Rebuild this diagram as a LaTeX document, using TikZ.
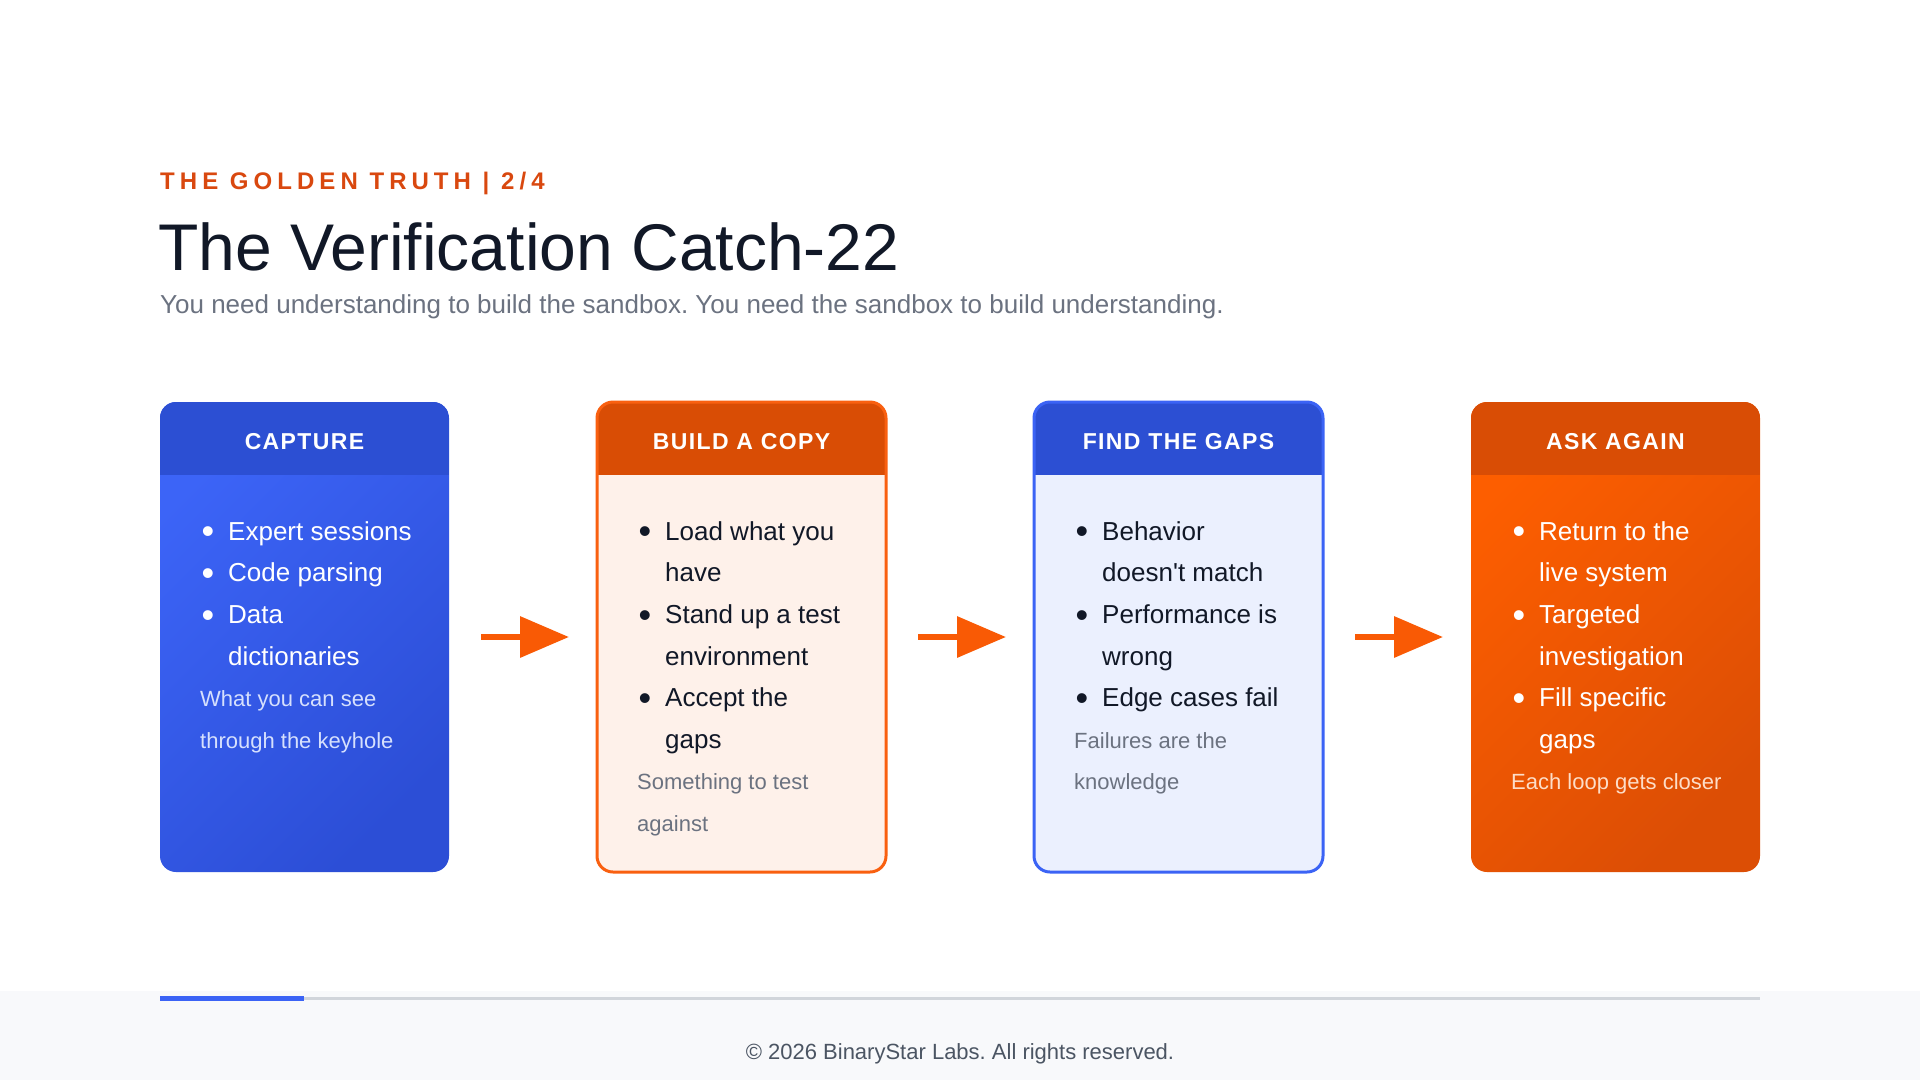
\documentclass[tikz,border=0pt]{standalone}
\usepackage{fontspec}
\setmainfont{Liberation Sans}
\newfontfamily\trackedfont[LetterSpace=21]{Liberation Sans}
\newfontfamily\headerfont[LetterSpace=6]{Liberation Sans}
\usetikzlibrary{arrows.meta,positioning,calc}
\frenchspacing
\definecolor{inkNavy}{RGB}{17,24,39}
\definecolor{slateGray}{RGB}{107,114,128}
\definecolor{footGray}{RGB}{75,85,99}
\definecolor{footBg}{RGB}{248,249,251}
\definecolor{trackGray}{RGB}{209,213,219}
\definecolor{eyebrowOrange}{RGB}{217,72,15}
\definecolor{arrowOrange}{RGB}{249,90,5}
\definecolor{headBlue}{RGB}{44,79,211}
\definecolor{headOrange}{RGB}{217,77,5}
\definecolor{blueTop}{RGB}{60,100,247}
\definecolor{blueBottom}{RGB}{44,78,214}
\definecolor{orangeTop}{RGB}{253,94,0}
\definecolor{orangeBottom}{RGB}{220,78,5}
\definecolor{lineBlue}{RGB}{59,99,245}
\definecolor{lineOrange}{RGB}{249,96,16}
\definecolor{paleBlue}{RGB}{235,240,254}
\definecolor{paleOrange}{RGB}{254,241,234}
\definecolor{noteOnBlue}{RGB}{214,224,253}
\definecolor{noteOnOrange}{RGB}{253,221,200}
\newcommand{\dotmark}{\hspace*{1.5pt}\raisebox{-3.5pt}{\fontsize{36}{0}\selectfont\textbullet}}
\newcommand{\notesize}{\fontsize{22}{41.6}\selectfont}
\tikzset{
  card/.style={rectangle,rounded corners=16pt,outer sep=0pt,inner sep=0pt,minimum width=289pt,minimum height=470pt},
  card blue/.style={card,top color=blueTop,bottom color=blueBottom,shading angle=45},
  card orange/.style={card,top color=orangeTop,bottom color=orangeBottom,shading angle=45},
  card pale orange/.style={card,fill=paleOrange},
  card pale blue/.style={card,fill=paleBlue},
  header text/.style={anchor=base,text=white,font=\headerfont\bfseries\fontsize{23}{26}\selectfont},
  body light/.style={anchor=north west,inner sep=0pt,text=white,font=\fontsize{26}{41.6}\selectfont},
  body dark/.style={anchor=north west,inner sep=0pt,text=inkNavy,font=\fontsize{26}{41.6}\selectfont},
  flow arrow/.style={-{Triangle[length=49pt,width=40pt]},line width=6.5pt,draw=arrowOrange,shorten <=32pt,shorten >=28pt}
}
\begin{document}
\begin{tikzpicture}[x=1pt,y=-1pt,node distance=148pt]
  \useasboundingbox[fill=white] (0,0) rectangle (1920,1080);
  % heading
  \node[anchor=base west,inner sep=0pt,text=eyebrowOrange,font=\trackedfont\bfseries\fontsize{24}{28}\selectfont] (eyebrow) at (160,189) {THE GOLDEN TRUTH | 2/4};
  \node[anchor=base west,inner sep=0pt,text=inkNavy,font=\fontsize{66}{70}\selectfont] (title) at (158,270) {The Verification Catch-22};
  \node[anchor=base west,inner sep=0pt,text=slateGray,font=\fontsize{26}{30}\selectfont] (subtitle) at (160,313) {You need understanding to build the sandbox. You need the sandbox to build understanding.};
  % cards
  \node[card blue,anchor=north west] (capture) at (160,402) {};
  \node[card pale orange,right=of capture] (copy) {};
  \node[card pale blue,right=of copy] (gaps) {};
  \node[card orange,right=of gaps] (again) {};
  \begin{scope}
    \clip[rounded corners=16pt] (capture.south west) rectangle (capture.north east);
    \fill[headBlue] (capture.north west) rectangle ($(capture.north east)+(0,-73pt)$);
  \end{scope}
  \begin{scope}
    \clip[rounded corners=16pt] (copy.south west) rectangle (copy.north east);
    \fill[headOrange] (copy.north west) rectangle ($(copy.north east)+(0,-73pt)$);
  \end{scope}
  \begin{scope}
    \clip[rounded corners=16pt] (gaps.south west) rectangle (gaps.north east);
    \fill[headBlue] (gaps.north west) rectangle ($(gaps.north east)+(0,-73pt)$);
  \end{scope}
  \begin{scope}
    \clip[rounded corners=16pt] (again.south west) rectangle (again.north east);
    \fill[headOrange] (again.north west) rectangle ($(again.north east)+(0,-73pt)$);
  \end{scope}
  \draw[lineOrange,line width=3pt,rounded corners=16pt] (copy.south west) rectangle (copy.north east);
  \draw[lineBlue,line width=3pt,rounded corners=16pt] (gaps.south west) rectangle (gaps.north east);
  % card titles
  \node[header text] (captureHead) at ($(capture.north)+(0,-47.4pt)$) {CAPTURE};
  \node[header text] (copyHead) at ($(copy.north)+(0,-47.4pt)$) {BUILD A COPY};
  \node[header text] (gapsHead) at ($(gaps.north)+(0,-47.4pt)$) {FIND THE GAPS};
  \node[header text] (againHead) at ($(again.north)+(0,-47.4pt)$) {ASK AGAIN};
  % card contents
  \node[body light] (captureBody) at ($(capture.north west)+(40pt,-109pt)$) {%
    \begin{tabular}{@{}p{28pt}@{}l@{}}
      \dotmark & Expert sessions\\
      \dotmark & Code parsing\\
      \dotmark & Data\\
               & dictionaries\\
      \multicolumn{2}{@{}l@{}}{\notesize\color{noteOnBlue}What you can see}\\
      \multicolumn{2}{@{}l@{}}{\notesize\color{noteOnBlue}through the keyhole}
    \end{tabular}};
  \node[body dark] (copyBody) at ($(copy.north west)+(40pt,-109pt)$) {%
    \begin{tabular}{@{}p{28pt}@{}l@{}}
      \dotmark & Load what you\\
               & have\\
      \dotmark & Stand up a test\\
               & environment\\
      \dotmark & Accept the\\
               & gaps\\
      \multicolumn{2}{@{}l@{}}{\notesize\color{slateGray}Something to test}\\
      \multicolumn{2}{@{}l@{}}{\notesize\color{slateGray}against}
    \end{tabular}};
  \node[body dark] (gapsBody) at ($(gaps.north west)+(40pt,-109pt)$) {%
    \begin{tabular}{@{}p{28pt}@{}l@{}}
      \dotmark & Behavior\\
               & doesn\textquotesingle t match\\
      \dotmark & Performance is\\
               & wrong\\
      \dotmark & Edge cases fail\\
      \multicolumn{2}{@{}l@{}}{\notesize\color{slateGray}Failures are the}\\
      \multicolumn{2}{@{}l@{}}{\notesize\color{slateGray}knowledge}
    \end{tabular}};
  \node[body light] (againBody) at ($(again.north west)+(40pt,-109pt)$) {%
    \begin{tabular}{@{}p{28pt}@{}l@{}}
      \dotmark & Return to the\\
               & live system\\
      \dotmark & Targeted\\
               & investigation\\
      \dotmark & Fill specific\\
               & gaps\\
      \multicolumn{2}{@{}l@{}}{\notesize\color{noteOnOrange}Each loop gets closer}
    \end{tabular}};
  % arrows
  \draw[flow arrow] (capture) -- (copy);
  \draw[flow arrow] (copy) -- (gaps);
  \draw[flow arrow] (gaps) -- (again);
  % footer
  \fill[footBg] (0,991) rectangle (1920,1080);
  \draw[trackGray,line width=3pt] (160,998) -- (1760,998);
  \draw[lineBlue,line width=5pt] (160,998) -- (304,998);
  \node[anchor=base,inner sep=0pt,text=footGray,font=\fontsize{22}{26}\selectfont] (footer) at (960,1059) {© 2026 BinaryStar Labs. All rights reserved.};
\end{tikzpicture}
\end{document}
